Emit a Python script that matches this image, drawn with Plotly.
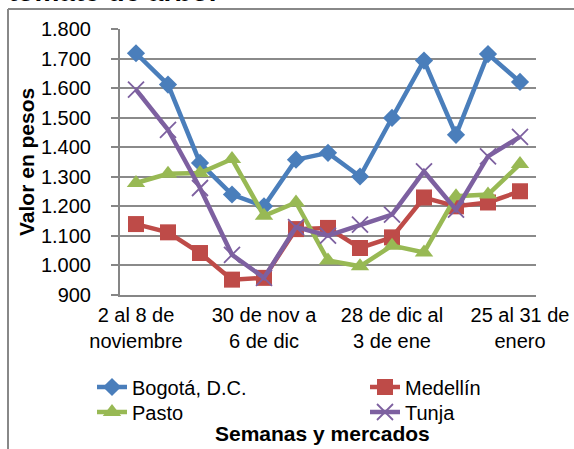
import plotly.graph_objects as go

semanas = ["2 al 8 de noviembre", "9 al 15 de noviembre", "16 al 22 de noviembre",
           "23 al 29 de noviembre", "30 de nov a 6 de dic", "7 al 13 de diciembre",
           "14 al 20 de diciembre", "21 al 27 de diciembre", "28 de dic al 3 de ene",
           "4 al 10 de enero", "11 al 17 de enero", "18 al 24 de enero", "25 al 31 de enero"]

bogota = [1718, 1612, 1347, 1240, 1200, 1358, 1381, 1301, 1499, 1693, 1442, 1715, 1621]
medellin = [1140, 1112, 1042, 952, 958, 1123, 1127, 1059, 1095, 1230, 1200, 1213, 1251]
pasto = [1279, 1310, 1313, 1360, 1168, 1213, 1017, 997, 1067, 1044, 1234, 1240, 1343]
tunja = [1595, 1459, 1262, 1036, 958, 1130, 1101, 1138, 1172, 1318, 1189, 1369, 1435]

tick_idx = [0, 4, 8, 12]
tick_text = ["2 al 8 de<br>noviembre", "30 de nov a<br>6 de dic",
             "28 de dic al<br>3 de ene", "25 al 31 de<br>enero"]
y_ticks = [900, 1000, 1100, 1200, 1300, 1400, 1500, 1600, 1700, 1800]

FONT = "Liberation Sans, Arial, sans-serif"
W, H = 574, 449
L, R, T, B = 120, 38, 29, 154
pw, ph = W - L - R, H - T - B

def px(x):
    return (x - L) / pw

def py(y):
    return (T + ph - y) / ph

fig = go.Figure()
series = [
    ("Bogotá, D.C.", bogota, "#4A7EBB", dict(symbol="diamond", size=14), "legend", 92, 387),
    ("Medellín", medellin, "#BE4B48", dict(symbol="square", size=16), "legend2", 365, 387),
    ("Pasto", pasto, "#98B954", dict(symbol="triangle-up", size=16), "legend3", 92, 412),
    ("Tunja", tunja, "#7D60A0", dict(symbol="x-thin", size=16,
                                      line=dict(width=1.8, color="#7D60A0")), "legend4", 365, 412),
]
legends = {}
for name, vals, col, mk, lg, lx, ly in series:
    mk = dict(mk)
    mk["color"] = col
    fig.add_trace(go.Scatter(x=semanas, y=vals, name=name, mode="lines+markers",
                             line=dict(color=col, width=4.5), marker=mk, legend=lg))
    legends[lg] = dict(orientation="v", xanchor="left", yanchor="middle",
                       x=px(lx), y=py(ly), font=dict(size=20), itemwidth=30,
                       bgcolor="rgba(0,0,0,0)")

fig.update_layout(
    width=W, height=H,
    margin=dict(l=L, r=R, t=T, b=B, autoexpand=False),
    paper_bgcolor="white", plot_bgcolor="white",
    separators=",.",
    font=dict(family=FONT, size=20, color="black"),
    showlegend=True,
    xaxis=dict(type="category", range=[-0.5, 12.5], tickmode="array",
               tickvals=[semanas[i] for i in tick_idx], ticktext=tick_text,
               showgrid=False, showline=True, linecolor="#868686", linewidth=2,
               ticks="", tickfont=dict(size=20), tickangle=0, fixedrange=True,
               ticklabelstandoff=1),
    yaxis=dict(range=[900, 1800], tickmode="array", tickvals=y_ticks,
               tickformat=",d", showgrid=True, gridcolor="#8a8a8a", gridwidth=1.5,
               showline=True, linecolor="#868686", linewidth=2,
               ticks="outside", ticklen=7, tickcolor="#868686", tickwidth=1.5,
               ticklabelstandoff=16, tickfont=dict(size=20), zeroline=False),
    **legends,
)

# axis titles
fig.add_annotation(text="<b>Valor en pesos</b>", xref="paper", yref="paper",
                   x=px(26), y=py(162), textangle=-90, showarrow=False,
                   xanchor="center", yanchor="middle", font=dict(size=21))
fig.add_annotation(text="<b>Semanas y mercados</b>", xref="paper", yref="paper",
                   x=px(322), y=py(433), showarrow=False,
                   xanchor="center", yanchor="middle", font=dict(size=21))
# chart title, cut off at the top edge as in the reference
fig.add_annotation(text="<b>tomate de árbol</b>", xref="paper", yref="paper",
                   x=px(6), y=py(9), showarrow=False, xanchor="left", yanchor="bottom",
                   font=dict(size=28))

# chart border (left and top edges visible)
fig.add_shape(type="line", xref="paper", yref="paper", x0=px(8), x1=px(8),
              y0=py(9), y1=py(470), line=dict(color="#888888", width=2), layer="above")
fig.add_shape(type="line", xref="paper", yref="paper", x0=px(8), x1=px(600),
              y0=py(9), y1=py(9), line=dict(color="#888888", width=2), layer="above")

fig.write_html("out.html", config={"displayModeBar": False},
               post_script="document.body.style.margin='0';")
